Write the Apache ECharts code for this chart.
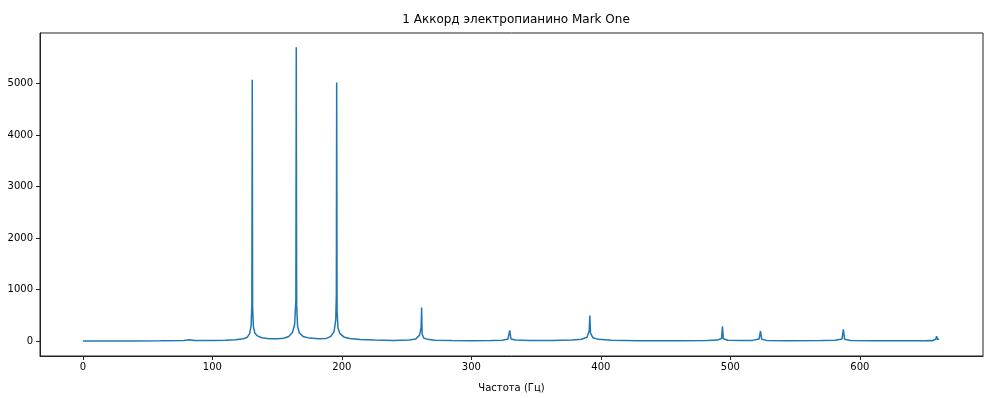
<!DOCTYPE html>
<html>
<head>
<meta charset="utf-8">
<script src="https://cdn.jsdelivr.net/npm/echarts@6/dist/echarts.min.js"></script>
<style>
html,body{margin:0;padding:0;background:#fff;}
#Espectro{width:994px;height:398px;}
</style>
</head>
<body>
<div id="Espectro"></div>
<script>
// frecuencias (Hz) y amplitudes
var frecuencias = [0, 20, 40, 60, 78, 82.4, 86, 100, 110, 118, 124, 127, 128.8, 129.9, 130.5, 130.8, 131.1, 131.7, 132.8, 134.5, 138, 144, 150, 155, 159, 161.8, 163.5, 164.5, 164.8, 165.1, 165.8, 167.2, 170, 175, 182, 188, 191.5, 194, 195.3, 195.75, 196, 196.3, 197, 198.5, 201.5, 206, 214, 225, 240, 252, 257, 260, 261.2, 261.6, 262, 263.2, 266, 272, 285, 300, 315, 324, 328.3, 329.6, 330.6, 334, 345, 362, 378, 385, 389.3, 391, 391.5, 392, 393.8, 398, 408, 430, 460, 482, 490, 493.2, 493.9, 494.6, 498, 508, 517, 522.2, 523.3, 524.2, 528, 545, 570, 581, 586.2, 587.3, 588.2, 593, 610, 635, 650, 654, 656, 658.6, 659.3, 660, 661];
var amplitudes = [6, 7, 8, 10, 14, 32, 14, 14, 20, 30, 50, 80, 150, 300, 700, 5070, 650, 280, 160, 110, 70, 50, 48, 60, 95, 170, 320, 800, 5700, 700, 290, 160, 95, 62, 48, 56, 95, 190, 420, 900, 5015, 600, 260, 150, 85, 55, 34, 24, 18, 26, 45, 120, 260, 655, 140, 65, 38, 20, 14, 12, 14, 22, 45, 213, 45, 24, 15, 16, 26, 40, 80, 200, 500, 160, 70, 38, 20, 12, 10, 14, 24, 55, 290, 50, 22, 14, 18, 45, 200, 40, 18, 12, 14, 20, 45, 230, 40, 18, 12, 10, 10, 18, 12, 40, 100, 35, 50];
var ticksX = [0, 100, 200, 300, 400, 500, 600];
var ticksY = [0, 1000, 2000, 3000, 4000, 5000];

var puntos = new Array();
for (var i = 0; i < frecuencias.length; i++)
{
	puntos[i] = [frecuencias[i], amplitudes[i]];
}

var dom = document.getElementById("Espectro");
var myChart = echarts.init(dom);
var fuente = 'DejaVu Sans';
var option = null;
option = {
	animation: false,
	title : {
		text: '1 Аккорд электропианино Mark One',
		left: 511,
		textAlign: 'center',
		top: 9,
		textStyle: {
			fontFamily: fuente,
			fontSize: 12,
			fontWeight: 'normal',
			color: '#000'
		}
	},
	grid: {
		left: 40,
		right: 11,
		top: 33,
		bottom: 41,
		show: true,
		borderColor: '#222',
		borderWidth: 1
	},
	xAxis: {
		type: 'value',
		min: -33.1,
		max: 695.1,
		name: 'Частота (Гц)',
		nameLocation: 'middle',
		nameGap: 27,
		nameTextStyle: { fontFamily: fuente, fontSize: 10, color: '#000' },
		splitLine: { show: false },
		axisLine: { show: true, onZero: false, lineStyle: { color: '#222', width: 1 } },
		axisTick: { show: true, inside: false, length: 4, customValues: ticksX, lineStyle: { color: '#222' } },
		axisLabel: { customValues: ticksX, margin: 6, fontFamily: fuente, fontSize: 10, color: '#000',
			formatter: function (v) { return String(v); } }
	},
	yAxis: {
		type: 'value',
		min: -284.5,
		max: 5975,
		splitLine: { show: false },
		axisLine: { show: true, onZero: false, lineStyle: { color: '#222', width: 1 } },
		axisTick: { show: true, inside: false, length: 4, customValues: ticksY, lineStyle: { color: '#222' } },
		axisLabel: { customValues: ticksY, margin: 7, fontFamily: fuente, fontSize: 10, color: '#000',
			formatter: function (v) { return String(v); } }
	},
	series : [
	{
		name: 'Espectro',
		type: 'line',
		data: puntos,
		showSymbol: false,
		symbol: 'none',
		sampling: null,
		lineStyle: { color: '#1f77b4', width: 1.5 },
		itemStyle: { color: '#1f77b4' }
	}
	]
};
if (option && typeof option === "object")
{
	myChart.setOption(option, true);
}
</script>
</body>
</html>
